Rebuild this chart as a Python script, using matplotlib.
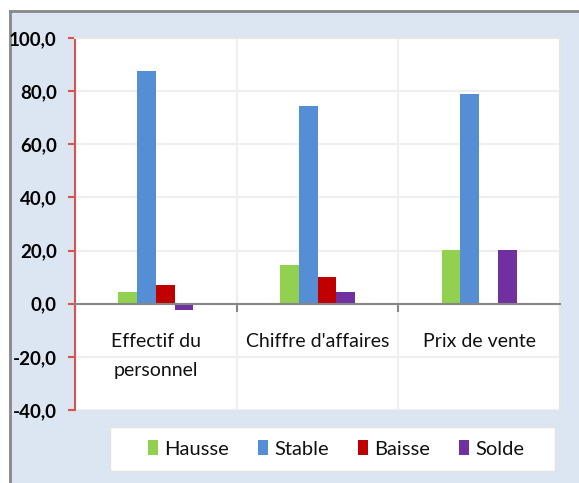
import matplotlib
matplotlib.use("Agg")
import matplotlib.pyplot as plt
import numpy as np
from matplotlib.patches import Rectangle
from matplotlib.lines import Line2D
from matplotlib.ticker import FuncFormatter, FixedLocator

# data
categories = ["Effectif du\npersonnel", "Chiffre d'affaires", "Prix de vente"]
series = ["Hausse", "Stable", "Baisse", "Solde"]
hausse = [4.4, 14.7, 20.2]
stable = [87.5, 74.4, 78.8]
baisse = [6.9, 10.0, 0.0]
solde = [-2.5, 4.4, 20.2]
yticks = [-40, -20, 0, 20, 40, 60, 80, 100]

colors = ["#92d050", "#558ed5", "#c00000", "#7030a0"]
BG = "#dce6f2"

plt.rcParams["font.family"] = ["Lato", "DejaVu Sans"]

fig = plt.figure(figsize=(5.79, 4.83), dpi=100, facecolor="white")
W, H = 579, 483

# light blue chart area with a grey frame on the top and left
fig.patches.append(Rectangle((10 / W, 0), 1, 1 - 11 / H, transform=fig.transFigure,
                             facecolor=BG, edgecolor="none", zorder=-10))
fig.lines.append(Line2D([10 / W, 1], [1 - 11 / H, 1 - 11 / H], transform=fig.transFigure,
                        color="#888888", linewidth=2, zorder=-5))
fig.lines.append(Line2D([10 / W, 10 / W], [0, 1 - 11 / H], transform=fig.transFigure,
                        color="#888888", linewidth=2, zorder=-5))

ax = fig.add_axes([75 / W, 1 - 410 / H, 485 / W, (410 - 38) / H])
ax.set_facecolor("white")

x = np.arange(len(categories))
bw = 0.1155
values = [hausse, stable, baisse, solde]
for i, (name, vals) in enumerate(zip(series, values)):
    ax.bar(x + (i - 1.5) * bw, vals, bw, color=colors[i], label=name, zorder=3)

ax.set_xlim(-0.5, len(categories) - 0.5)
ax.set_ylim(-40, 100)

ax.yaxis.set_major_locator(FixedLocator(yticks))
ax.yaxis.set_major_formatter(FuncFormatter(lambda v, p: f"{v:.1f}".replace(".", ",")))
ax.tick_params(axis="y", colors="#d9534f", length=5, width=1.5, pad=8,
               labelsize=13.5, labelcolor="black")
for lbl in ax.get_yticklabels():
    lbl.set_fontweight("bold")

ax.grid(axis="y", color="#efefef", linewidth=1.5, zorder=0)
for b in np.arange(0.5, len(categories) - 0.5):
    ax.axvline(b, color="#efefef", linewidth=1.5, zorder=0)

ax.spines["left"].set_color("#d9534f")
ax.spines["left"].set_linewidth(1.5)
ax.spines["bottom"].set_position(("data", 0))
ax.spines["bottom"].set_color("#878787")
ax.spines["bottom"].set_linewidth(1.5)
ax.spines["bottom"].set_zorder(4)
for s in ("top", "right"):
    ax.spines[s].set_color("#e6e6e6")
    ax.spines[s].set_linewidth(1.5)

ax.set_xticks(x)
ax.set_xticklabels(categories, fontsize=14, linespacing=1.85, color="#111111")
ax.set_xticks(np.arange(-0.5, len(categories)), minor=True)
ax.tick_params(axis="x", which="major", length=0, pad=21)
ax.tick_params(axis="x", which="minor", length=6, width=1.5, color="#878787")

# legend in its own white box below the plot
fig.patches.append(Rectangle((110 / W, 1 - 471 / H), 445 / W, 44 / H,
                             transform=fig.transFigure, facecolor="white",
                             edgecolor="#e3e3e3", linewidth=1, zorder=1))
handles, labels = ax.get_legend_handles_labels()
leg = fig.legend(handles, labels, loc="center", ncol=4,
                 bbox_to_anchor=(336 / W, 1 - 449 / H), frameon=False,
                 fontsize=14.5, handlelength=0.5, handleheight=0.7,
                 handletextpad=0.3, columnspacing=1.45)
for t in leg.get_texts():
    t.set_color("#111111")

fig.savefig("out.png", dpi=100, facecolor=fig.get_facecolor())
